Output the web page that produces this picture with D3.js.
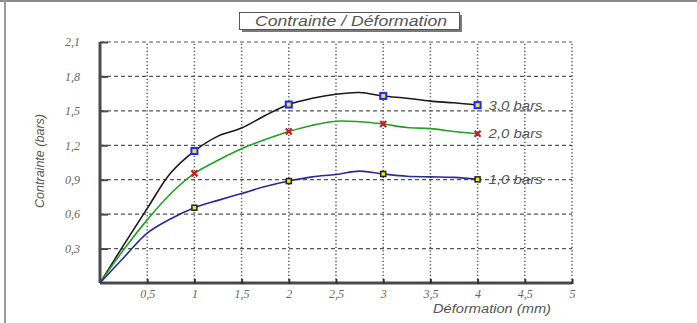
<!DOCTYPE html>
<html><head><meta charset="utf-8">
<script src="https://cdn.jsdelivr.net/npm/d3@7"></script>
<style>body{margin:0;background:#fff}svg{display:block}</style>
</head><body>
<script>
const xValues = [0, 0.25, 0.5, 0.75, 1, 1.25, 1.5, 1.75, 2, 2.25, 2.5, 2.75, 3, 3.25, 3.5, 3.75, 4];
const bars30 = [0, 0.33, 0.65, 0.96, 1.15, 1.28, 1.35, 1.46, 1.555, 1.61, 1.645, 1.66, 1.63, 1.61, 1.585, 1.57, 1.55];
const bars20 = [0, 0.29, 0.55, 0.78, 0.955, 1.07, 1.17, 1.25, 1.32, 1.375, 1.41, 1.405, 1.385, 1.355, 1.345, 1.32, 1.30];
const bars10 = [0, 0.22, 0.435, 0.56, 0.656, 0.72, 0.78, 0.84, 0.888, 0.925, 0.945, 0.975, 0.95, 0.93, 0.925, 0.92, 0.903];
const markerX = [1, 2, 3, 4];
const seriesNames = ["3,0 bars", "2,0 bars", "1,0 bars"];
const xTicks = [0.5, 1, 1.5, 2, 2.5, 3, 3.5, 4, 4.5, 5];
const yTicks = [0.3, 0.6, 0.9, 1.2, 1.5, 1.8, 2.1];
const fmt = v => String(v).replace(".", ",");

const W = 697, H = 323;
const svg = d3.select("body").append("svg").attr("width", W).attr("height", H);

// outer frame
svg.append("line").attr("x1", 0).attr("x2", W).attr("y1", 1).attr("y2", 1).attr("stroke", "#8a8a8a").attr("stroke-width", 2);
svg.append("line").attr("x1", 5).attr("x2", 5).attr("y1", 0).attr("y2", H).attr("stroke", "#9a9a9a").attr("stroke-width", 2);

const x = d3.scaleLinear().domain([0, 5]).range([100, 572]);
const y = d3.scaleLinear().domain([0, 2.1]).range([283, 42]);

// grid
const g = svg.append("g");
g.selectAll(".hg").data(yTicks).join("line")
  .attr("x1", x(0)).attr("x2", x(5)).attr("y1", d => y(d)).attr("y2", d => y(d))
  .attr("stroke", "#555").attr("stroke-width", 1.2).attr("stroke-dasharray", "4,3");
g.selectAll(".vg").data(xTicks).join("line")
  .attr("x1", d => x(d)).attr("x2", d => x(d)).attr("y1", y(0)).attr("y2", y(2.1))
  .attr("stroke", "#555").attr("stroke-width", 1.5).attr("stroke-dasharray", "1.2,2.3");

// axes
const yAxis = d3.axisLeft(y).tickValues(yTicks).tickFormat(fmt).tickSize(-8).tickPadding(20);
const ya = svg.append("g").attr("transform", `translate(${x(0)},0)`).call(yAxis);
ya.select(".domain").attr("stroke", "#4a4a4a").attr("stroke-width", 3).attr("d", `M0,${y(2.1)}V${y(0)}`);
ya.selectAll(".tick line").attr("stroke", "#4a4a4a").attr("stroke-width", 2);
ya.selectAll(".tick text").attr("font-family", "Liberation Serif").attr("font-style", "italic")
  .attr("font-size", 12).attr("fill", "#666");

const xAxis = d3.axisBottom(x).tickValues(xTicks).tickFormat(fmt).tickSize(-4).tickPadding(6);
const xa = svg.append("g").attr("transform", `translate(0,${y(0)})`).call(xAxis);
xa.select(".domain").attr("stroke", "#4a4a4a").attr("stroke-width", 3).attr("d", `M${x(0)},0H${x(5)}`);
xa.selectAll(".tick line").attr("stroke", "#333").attr("stroke-width", 2).attr("y2", -4).attr("y1", 1);
xa.selectAll(".tick text").attr("font-family", "Liberation Serif").attr("font-style", "italic")
  .attr("font-size", 12).attr("fill", "#666");

// lines
const line = d3.line().x(d => x(d[0])).y(d => y(d[1])).curve(d3.curveCatmullRom.alpha(0.5));
const series = [
  {name: seriesNames[0], vals: bars30, color: "#1a1a1a", marker: "bigsq"},
  {name: seriesNames[1], vals: bars20, color: "#22a022", marker: "cross"},
  {name: seriesNames[2], vals: bars10, color: "#2a2aa0", marker: "smallsq"}
];
series.forEach(s => {
  const pts = xValues.map((xv, i) => [xv, s.vals[i]]);
  svg.append("path").datum(pts).attr("d", line).attr("fill", "none")
    .attr("stroke", s.color).attr("stroke-width", 1.6);
  const mk = pts.filter(p => markerX.includes(p[0]));
  if (s.marker === "bigsq") {
    svg.selectAll(null).data(mk).join("rect")
      .attr("x", d => x(d[0]) - 3).attr("y", d => y(d[1]) - 3).attr("width", 6).attr("height", 6)
      .attr("fill", "#e8e820").attr("stroke", "#1a2aff").attr("stroke-width", 2);
  } else if (s.marker === "smallsq") {
    svg.selectAll(null).data(mk).join("rect")
      .attr("x", d => x(d[0]) - 2.5).attr("y", d => y(d[1]) - 2.5).attr("width", 5).attr("height", 5)
      .attr("fill", "#e8e820").attr("stroke", "#222").attr("stroke-width", 1.5);
  } else {
    svg.selectAll(null).data(mk).join("path")
      .attr("d", d => { const cx = x(d[0]), cy = y(d[1]); return `M${cx-3},${cy-3}L${cx+3},${cy+3}M${cx+3},${cy-3}L${cx-3},${cy+3}`; })
      .attr("stroke", "#c02020").attr("stroke-width", 2.2);
  }
  const last = pts[pts.length - 1];
  svg.append("text").attr("x", x(last[0]) + 11).attr("y", y(last[1])).attr("dy", "0.35em")
    .attr("font-family", "Liberation Sans").attr("font-style", "italic").attr("font-size", 13)
    .attr("textLength", 54).attr("lengthAdjust", "spacingAndGlyphs")
    .attr("fill", "#555").text(s.name);
});

// axis titles
svg.append("text").attr("transform", "translate(44,161) rotate(-90)").attr("text-anchor", "middle")
  .attr("font-family", "Liberation Sans").attr("font-style", "italic").attr("font-size", 12)
  .attr("textLength", 94).attr("lengthAdjust", "spacingAndGlyphs")
  .attr("fill", "#555").text("Contrainte (bars)");
svg.append("text").attr("x", 492).attr("y", 313).attr("text-anchor", "middle")
  .attr("font-family", "Liberation Sans").attr("font-style", "italic").attr("font-size", 12)
  .attr("textLength", 118).attr("lengthAdjust", "spacingAndGlyphs").attr("fill", "#555").text("Déformation (mm)");

// title box
svg.append("rect").attr("x", 242).attr("y", 15).attr("width", 220).attr("height", 17).attr("fill", "#7a7a7a");
svg.append("rect").attr("x", 239.5).attr("y", 12.5).attr("width", 220).attr("height", 17)
  .attr("fill", "#fff").attr("stroke", "#555").attr("stroke-width", 1);
svg.append("text").attr("x", 351).attr("y", 26).attr("text-anchor", "middle")
  .attr("font-family", "Liberation Sans").attr("font-style", "italic").attr("font-size", 15)
  .attr("textLength", 192).attr("lengthAdjust", "spacingAndGlyphs").attr("fill", "#555").text("Contrainte / Déformation");
</script>
</body></html>
